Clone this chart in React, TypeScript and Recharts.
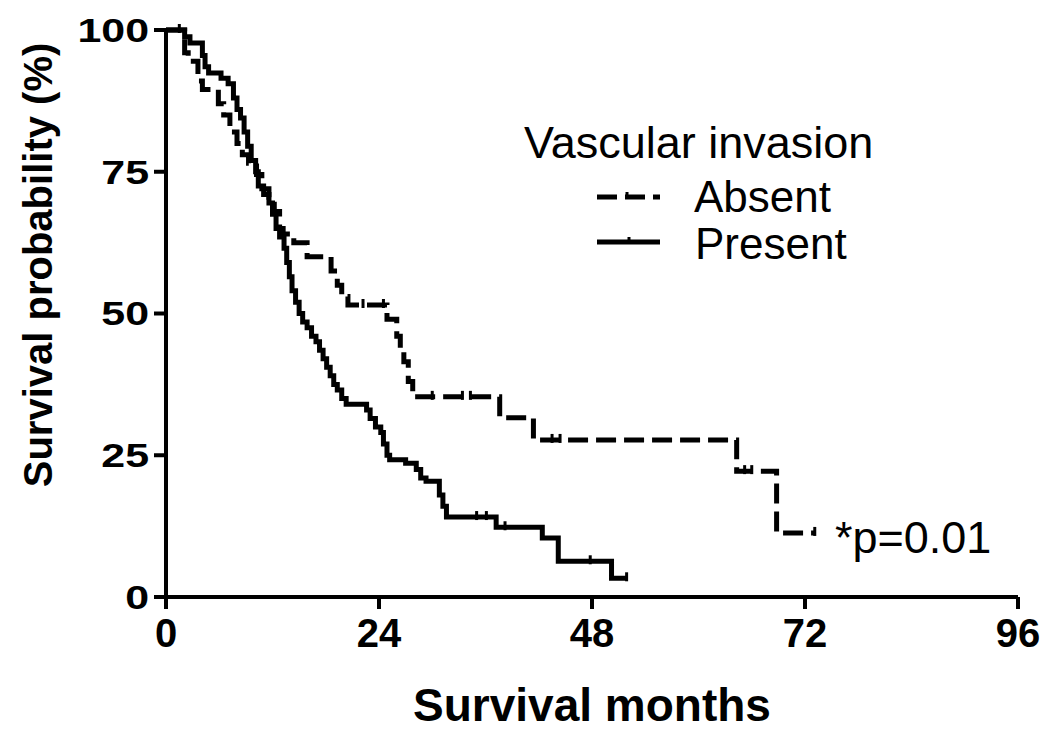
import React from "react";
import { ComposedChart, Line, Scatter, XAxis, YAxis, Label } from "recharts";

// Kaplan-Meier steps: month where the step starts, survival (%)
const absentMonths = [0, 2.1, 2.5, 3.6, 4.1, 5.9, 6.5, 7.2, 8.0, 8.6, 9.3, 10.2, 10.8, 11.6, 12.2, 12.8, 13.2, 14.4, 15.9, 18.6, 19.3, 19.8, 20.5, 24.9, 26.0, 26.4, 26.8, 27.3, 27.8, 37.6, 41.4, 64.3, 68.8, 73.1];
const absentSurvival = [100, 96, 94.5, 91, 89.5, 87, 85, 82, 80, 78, 76.5, 74.5, 72, 70.5, 68, 65, 64, 62.5, 60, 57.5, 55, 53, 51.5, 49, 46, 43.5, 41.5, 38, 35.3, 31.6, 27.7, 22.2, 11.3, 11.3];

const presentMonths = [0, 2.1, 2.7, 4.1, 4.4, 4.8, 6.2, 7.0, 7.6, 8.0, 8.4, 8.8, 9.2, 9.6, 10.1, 10.4, 11.0, 11.6, 12.0, 12.4, 12.8, 13.3, 13.6, 13.9, 14.2, 14.6, 15.0, 15.4, 15.9, 16.4, 16.9, 17.3, 17.7, 18.1, 18.5, 18.9, 19.3, 19.8, 20.3, 22.6, 23.0, 23.6, 24.2, 24.5, 24.9, 25.2, 27.0, 28.2, 28.7, 29.3, 30.8, 31.2, 31.6, 37.2, 42.4, 44.2, 50.2, 51.9];
const presentSurvival = [100, 98.8, 97.7, 95.5, 93.5, 92.4, 91.5, 90.5, 88, 86, 84.5, 82, 79.5, 77, 75, 72.5, 71, 69.5, 67.5, 65, 63.5, 61.5, 59, 56.5, 54, 52, 50, 48.5, 47.5, 46, 45, 43.5, 42, 40.5, 39, 37.5, 36.5, 35, 34, 33, 31.5, 30, 29, 27, 25, 24.2, 23.6, 22.5, 21, 20.4, 18, 16, 14.1, 12.3, 10.4, 6.3, 3.3, 3.3];

// censored observations (months)
const absentCensored = [1.5, 22.2, 24.5, 30.0, 33.4, 34.3, 43.5, 44.4, 65.2, 66.0, 73.1];
const presentCensored = [35.0, 36.1, 38.2, 47.8, 51.9];

const xTicks = [0, 24, 48, 72, 96];
const yTicks = [0, 25, 50, 75, 100];

const FONT = "'Liberation Sans', Arial, Helvetica, sans-serif";

function toSteps(months: number[], survival: number[]) {
  return months.map((m, i) => ({ month: m, pct: survival[i] }));
}

function censorPoints(censored: number[], months: number[], survival: number[]) {
  return censored.map((t) => {
    let v = survival[0];
    for (let i = 0; i < months.length; i++) {
      if (months[i] <= t) v = survival[i];
    }
    return { month: t, pct: v };
  });
}

const CensorTick = (props: any) => {
  const { cx, cy } = props;
  return <line x1={cx} x2={cx} y1={cy - 6} y2={cy + 3} stroke="#000" strokeWidth={3} />;
};

const YTick = ({ x, y, payload }: any) => (
  <text
    transform={`translate(${x}, ${y}) scale(1.3, 1)`}
    textAnchor="end"
    dy="0.36em"
    fontFamily={FONT}
    fontWeight="bold"
    fontSize={33}
    fill="#000"
  >
    {payload.value}
  </text>
);

const XTick = ({ x, y, payload }: any) => (
  <text x={x} y={y} dy="0.75em" textAnchor="middle" fontFamily={FONT} fontWeight="bold" fontSize={40} fill="#000">
    {payload.value}
  </text>
);

export default function App() {
  const absentData = toSteps(absentMonths, absentSurvival);
  const presentData = toSteps(presentMonths, presentSurvival);
  const absentMarks = censorPoints(absentCensored, absentMonths, absentSurvival);
  const presentMarks = censorPoints(presentCensored, presentMonths, presentSurvival);

  return (
    <div style={{ position: "relative", width: 1050, height: 738, background: "#fff" }}>
      <style>{"body{margin:0}"}</style>
      <ComposedChart width={1050} height={738} margin={{ top: 30, right: 32, bottom: 0, left: 0 }}>
        <XAxis
          dataKey="month"
          type="number"
          domain={[0, 96]}
          ticks={xTicks}
          height={141}
          tickSize={12}
          tickMargin={8}
          axisLine={{ stroke: "#000", strokeWidth: 4 }}
          tickLine={{ stroke: "#000", strokeWidth: 4 }}
          tick={<XTick />}
        >
          <Label
            content={() => (
              <text x={592} y={721} textAnchor="middle" fontFamily={FONT} fontWeight="bold" fontSize={46} fill="#000">
                Survival months
              </text>
            )}
          />
        </XAxis>
        <YAxis
          dataKey="pct"
          type="number"
          domain={[0, 100]}
          ticks={yTicks}
          width={166}
          tickSize={12}
          tickMargin={5}
          axisLine={{ stroke: "#000", strokeWidth: 4 }}
          tickLine={{ stroke: "#000", strokeWidth: 4 }}
          tick={<YTick />}
        >
          <Label
            content={() => (
              <text
                transform="translate(38, 265) rotate(-90)"
                textAnchor="middle"
                dy="0.35em"
                fontFamily={FONT}
                fontWeight="bold"
                fontSize={40}
                fill="#000"
              >
                Survival probability (%)
              </text>
            )}
          />
        </YAxis>
        <Line
          data={absentData}
          dataKey="pct"
          type="stepAfter"
          stroke="#000"
          strokeWidth={5}
          strokeDasharray="20 8"
          dot={false}
          isAnimationActive={false}
        />
        <Line
          data={presentData}
          dataKey="pct"
          type="stepAfter"
          stroke="#000"
          strokeWidth={5}
          dot={false}
          isAnimationActive={false}
        />
        <Scatter data={absentMarks} dataKey="pct" shape={<CensorTick />} isAnimationActive={false} />
        <Scatter data={presentMarks} dataKey="pct" shape={<CensorTick />} isAnimationActive={false} />
      </ComposedChart>
      <svg
        width={1050}
        height={738}
        style={{ position: "absolute", left: 0, top: 0, pointerEvents: "none" }}
        fontFamily={FONT}
      >
        <text x={524} y={158} fontSize={45} fill="#000">
          Vascular invasion
        </text>
        <line x1={597} x2={660} y1={197} y2={197} stroke="#000" strokeWidth={5} strokeDasharray="20 8" />
        <line x1={627} x2={627} y1={192} y2={199} stroke="#000" strokeWidth={3} />
        <text x={694} y={212} fontSize={44} fill="#000">
          Absent
        </text>
        <line x1={597} x2={660} y1={242} y2={242} stroke="#000" strokeWidth={5} />
        <line x1={629} x2={629} y1={237} y2={244} stroke="#000" strokeWidth={3} />
        <text x={695} y={259} fontSize={44} fill="#000">
          Present
        </text>
        <text x={835} y={553} fontSize={45} fill="#000">
          *p=0.01
        </text>
      </svg>
    </div>
  );
}
